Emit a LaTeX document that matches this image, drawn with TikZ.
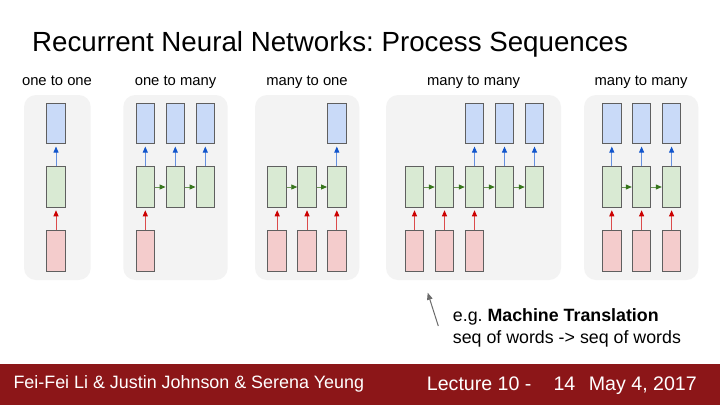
\documentclass[tikz,border=0pt]{standalone}
\usepackage{fontspec}
\setmainfont{Liberation Sans}
\usetikzlibrary{arrows.meta}
\frenchspacing
\definecolor{panelgray}{HTML}{F3F3F3}
\definecolor{boxblue}{HTML}{C9DAF8}
\definecolor{boxgreen}{HTML}{D9EAD3}
\definecolor{boxred}{HTML}{F4CCCC}
\definecolor{boxedge}{HTML}{5F5F5F}
\definecolor{arrred}{HTML}{CC0000}
\definecolor{arrgreen}{HTML}{38761D}
\definecolor{arrblue}{HTML}{1155CC}
\definecolor{footred}{RGB}{140,22,24}
\definecolor{annogray}{HTML}{6B6B6B}
\tikzset{
  panel/.style={fill=panelgray, rounded corners=12pt},
  cell/.style={draw=boxedge, line width=1pt, minimum width=18.5pt, minimum height=40.5pt, inner sep=0pt},
  outbox/.style={cell, fill=boxblue},
  hidbox/.style={cell, fill=boxgreen},
  inbox/.style={cell, fill=boxred},
  upblue/.style={draw=arrblue!65, line width=0.9pt, -{Triangle[length=6pt,width=5pt,color=arrblue]}, shorten >=2.5pt},
  upred/.style={draw=arrred!70, line width=0.9pt, -{Triangle[length=6pt,width=5pt,color=arrred]}, shorten >=2.5pt},
  rgreen/.style={draw=arrgreen!75, line width=0.9pt, -{Triangle[length=6pt,width=5pt,color=arrgreen]}},
  lbl/.style={inner sep=0pt, anchor=base, font=\fontsize{14.8}{17}\selectfont},
  antxt/.style={inner sep=0pt, anchor=base west, font=\fontsize{17.8}{21}\selectfont},
  foottxt/.style={inner sep=0pt, anchor=base west, text=white, font=\fontsize{17.9}{21}\selectfont},
  lecttxt/.style={inner sep=0pt, anchor=base west, text=white, font=\fontsize{19.6}{23}\selectfont},
}
\begin{document}
\begin{tikzpicture}[x=1pt,y=-1pt]
\useasboundingbox (0,0) rectangle (720,405);
\fill[white] (0,0) rectangle (720,405);
% title
\node[inner sep=0pt, anchor=base west, font=\fontsize{27.7}{32}\selectfont] (title) at (32,51) {Recurrent Neural Networks: Process Sequences};
% panels
\fill[panel] (24,95) rectangle (90.7,280);
\fill[panel] (123.3,95) rectangle (227.7,280);
\fill[panel] (255,95) rectangle (359.3,280);
\fill[panel] (386,95) rectangle (561,280);
\fill[panel] (584,95) rectangle (698.3,280);
% labels
\node[lbl] (l1) at (57,85) {one to one};
\node[lbl] (l2) at (175.5,85) {one to many};
\node[lbl] (l3) at (307,85) {many to one};
\node[lbl] (l4) at (473.5,85) {many to many};
\node[lbl] (l5) at (641,85) {many to many};
% one to one
\node[outbox] (a-o) at (56,123.3) {};
\node[hidbox] (a-h) at (56,187) {};
\node[inbox] (a-i) at (56,251) {};
\draw[upred] (a-i) -- (a-h);
\draw[upblue] (a-h) -- (a-o);
% one to many
\foreach \k/\x in {1/145.3,2/175.3,3/205.3}{
  \node[outbox] (b-o\k) at (\x,123.3) {};
  \node[hidbox] (b-h\k) at (\x,187) {};
}
\node[inbox] (b-i1) at (145.3,251) {};
\draw[upred] (b-i1) -- (b-h1);
\foreach \k in {1,2,3}{\draw[upblue] (b-h\k) -- (b-o\k);}
\draw[rgreen] (b-h1) -- (b-h2);
\draw[rgreen] (b-h2) -- (b-h3);
% many to one
\foreach \k/\x in {1/277.2,2/307,3/336.8}{
  \node[hidbox] (c-h\k) at (\x,187) {};
  \node[inbox] (c-i\k) at (\x,251) {};
  \draw[upred] (c-i\k) -- (c-h\k);
}
\node[outbox] (c-o3) at (336.8,123.3) {};
\draw[upblue] (c-h3) -- (c-o3);
\draw[rgreen] (c-h1) -- (c-h2);
\draw[rgreen] (c-h2) -- (c-h3);
% many to many (seq2seq)
\foreach \k/\x in {1/414.5,2/444.5,3/474.5,4/504.5,5/534.5}{
  \node[hidbox] (d-h\k) at (\x,187) {};
}
\foreach \k/\x in {1/414.5,2/444.5,3/474.5}{
  \node[inbox] (d-i\k) at (\x,251) {};
  \draw[upred] (d-i\k) -- (d-h\k);
}
\foreach \k/\x in {3/474.5,4/504.5,5/534.5}{
  \node[outbox] (d-o\k) at (\x,123.3) {};
  \draw[upblue] (d-h\k) -- (d-o\k);
}
\draw[rgreen] (d-h1) -- (d-h2);
\draw[rgreen] (d-h2) -- (d-h3);
\draw[rgreen] (d-h3) -- (d-h4);
\draw[rgreen] (d-h4) -- (d-h5);
% many to many (synced)
\foreach \k/\x in {1/611.8,2/641.6,3/671.6}{
  \node[outbox] (e-o\k) at (\x,123.3) {};
  \node[hidbox] (e-h\k) at (\x,187) {};
  \node[inbox] (e-i\k) at (\x,251) {};
  \draw[upred] (e-i\k) -- (e-h\k);
  \draw[upblue] (e-h\k) -- (e-o\k);
}
\draw[rgreen] (e-h1) -- (e-h2);
\draw[rgreen] (e-h2) -- (e-h3);
% annotation
\coordinate (anTail) at (438.3,326);
\coordinate (anTip) at (427.7,292.7);
\draw[annogray, line width=1pt, -{Triangle[length=7pt,width=5.5pt]}] (anTail) -- (anTip);
\node[antxt] (an1) at (452.7,321.7) {e.g. \textbf{Machine Translation}};
\node[antxt] (an2) at (452.7,343.3) {seq of words -> seq of words};
% footer
\fill[footred] (0,364) rectangle (720,405);
\node[foottxt] (f1) at (13.3,388.5) {Fei-Fei Li \& Justin Johnson \& Serena Yeung};
\node[lecttxt] (f2) at (426.7,390.5) {Lecture 10 -};
\node[lecttxt] (f3) at (553.3,390.5) {14};
\node[lecttxt] (f4) at (588.7,390.5) {May 4, 2017};
\end{tikzpicture}
\end{document}
